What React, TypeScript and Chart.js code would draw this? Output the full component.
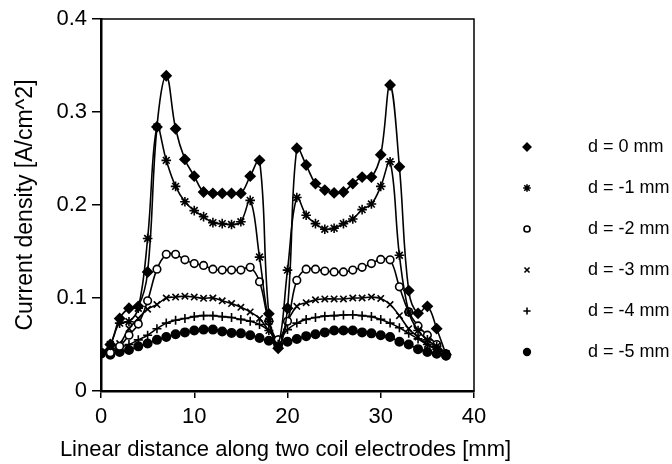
import React, { useEffect, useRef } from "react";
import { Chart, registerables } from "chart.js";
import { drawPoint } from "chart.js/helpers";

Chart.register(...registerables);

const distances = [0, 1, 2, 3, 4, 5, 6, 7, 8, 9, 10, 11, 12, 13, 14, 15, 16, 17, 18, 19, 20, 21, 22, 23, 24, 25, 26, 27, 28, 29, 30, 31, 32, 33, 34, 35, 36, 37];

const d0 = [0.040, 0.050, 0.078, 0.089, 0.091, 0.128, 0.284, 0.339, 0.282, 0.249, 0.231, 0.214, 0.2125, 0.2125, 0.2125, 0.2125, 0.231, 0.248, 0.083, 0.046, 0.089, 0.261, 0.243, 0.223, 0.216, 0.213, 0.214, 0.223, 0.230, 0.230, 0.254, 0.329, 0.241, 0.108, 0.0835, 0.091, 0.067, 0.039];
const d1 = [0.040, 0.050, 0.073, 0.0745, 0.089, 0.164, 0.284, 0.248, 0.220, 0.2035, 0.194, 0.1875, 0.181, 0.180, 0.179, 0.182, 0.205, 0.144, 0.075, 0.050, 0.130, 0.208, 0.189, 0.180, 0.174, 0.175, 0.180, 0.185, 0.195, 0.201, 0.220, 0.2465, 0.146, 0.085, 0.065, 0.055, 0.048, 0.040];
const d2 = [0.040, 0.041, 0.048, 0.060, 0.072, 0.097, 0.131, 0.147, 0.147, 0.141, 0.137, 0.135, 0.131, 0.130, 0.130, 0.130, 0.133, 0.1175, 0.075, 0.055, 0.075, 0.119, 0.131, 0.131, 0.129, 0.128, 0.128, 0.130, 0.133, 0.137, 0.1415, 0.141, 0.112, 0.085, 0.070, 0.060, 0.050, 0.040];
const d3 = [0.040, 0.047, 0.051, 0.067, 0.078, 0.088, 0.093, 0.100, 0.101, 0.102, 0.101, 0.0997, 0.100, 0.097, 0.094, 0.090, 0.085, 0.078, 0.065, 0.055, 0.075, 0.091, 0.095, 0.098, 0.099, 0.099, 0.099, 0.100, 0.100, 0.101, 0.0995, 0.093, 0.081, 0.067, 0.058, 0.050, 0.045, 0.040];
const d4 = [0.040, 0.045, 0.047, 0.050, 0.055, 0.060, 0.067, 0.073, 0.076, 0.078, 0.080, 0.081, 0.081, 0.080, 0.079, 0.077, 0.075, 0.0715, 0.065, 0.055, 0.066, 0.073, 0.077, 0.079, 0.0805, 0.081, 0.0817, 0.082, 0.081, 0.080, 0.077, 0.073, 0.068, 0.062, 0.056, 0.050, 0.045, 0.040];
const d5 = [0.041, 0.039, 0.042, 0.044, 0.048, 0.051, 0.055, 0.058, 0.061, 0.063, 0.065, 0.066, 0.066, 0.064, 0.0625, 0.062, 0.060, 0.057, 0.054, 0.050, 0.053, 0.056, 0.059, 0.061, 0.063, 0.065, 0.065, 0.065, 0.063, 0.062, 0.060, 0.058, 0.053, 0.050, 0.045, 0.042, 0.040, 0.038];

const seriesLabels = ["d = 0 mm", "d = -1 mm", "d = -2 mm", "d = -3 mm", "d = -4 mm", "d = -5 mm"];
const seriesValues = [d0, d1, d2, d3, d4, d5];
const pointStyles = ["rectRot", "star", "circle", "crossRot", "cross", "circle"];
const pointFills = ["#000", "#000", "#fff", "#000", "#000", "#000"];
const pointRadii = [4.8, 4.8, 3.8, 4.5, 4.5, 4.2];

const xTicks = [0, 10, 20, 30, 40];
const yTicks = [0, 0.1, 0.2, 0.3, 0.4];
const xTitle = "Linear distance along two coil electrodes [mm]";
const yTitle = "Current density [A/cm^2]";

const FONT = '"Liberation Sans", Arial, Helvetica, sans-serif';

const sideLegend = {
  id: "sideLegend",
  afterDraw(chart: any) {
    const ctx = chart.ctx;
    const a = chart.chartArea;
    ctx.save();
    ctx.strokeStyle = "#000";
    ctx.lineWidth = 1.5;
    ctx.strokeRect(a.left, a.top, a.right - a.left, a.bottom - a.top);
    ctx.fillStyle = "#000";
    ctx.textBaseline = "middle";
    ctx.textAlign = "center";
    ctx.font = `22px ${FONT}`;
    ctx.fillText(xTitle, (a.left + a.right) / 2 - 2, 450);
    ctx.font = `18px ${FONT}`;
    ctx.textAlign = "left";
    chart.data.datasets.forEach((ds: any, i: number) => {
      const y = 147 + i * 41;
      ctx.fillStyle = ds.pointBackgroundColor;
      ctx.strokeStyle = "#000";
      ctx.lineWidth = 1.6;
      drawPoint(ctx, { pointStyle: ds.pointStyle, radius: ds.pointRadius * 0.8, borderWidth: 1.6, rotation: 0 } as any, 527, y);
      ctx.fillStyle = "#000";
      ctx.fillText(ds.label, 588, y);
    });
    ctx.restore();
  },
};

export default function App() {
  const ref = useRef<HTMLCanvasElement>(null);
  useEffect(() => {
    if (!ref.current) return;
    const chart = new Chart(ref.current, {
      type: "line",
      data: {
        datasets: seriesValues.map((vals, i) => ({
          label: seriesLabels[i],
          data: distances.map((x, j) => ({ x, y: vals[j] })),
          borderColor: "#000",
          borderWidth: 1.6,
          tension: 0.4,
          pointStyle: pointStyles[i] as any,
          pointRadius: pointRadii[i],
          pointBackgroundColor: pointFills[i],
          pointBorderColor: "#000",
          pointBorderWidth: 1.6,
          fill: false,
        })),
      },
      options: {
        animation: false,
        responsive: false,
        layout: { padding: { top: 19, right: 198, left: 0, bottom: 0 } },
        plugins: { legend: { display: false }, tooltip: { enabled: false } },
        scales: {
          x: {
            type: "linear",
            min: 0,
            max: 40,
            afterBuildTicks: (s: any) => { s.ticks = xTicks.map((v) => ({ value: v })); },
            afterFit: (s: any) => { s.height = 73; },
            ticks: { color: "#000", font: { family: FONT, size: 22 }, padding: 6 },
            grid: { drawOnChartArea: false, drawTicks: true, tickLength: 7, color: "#000", lineWidth: 1.5 },
            border: { display: true, color: "#000", width: 2.5 },
            title: { display: false },
          },
          y: {
            type: "linear",
            min: 0,
            max: 0.4,
            afterBuildTicks: (s: any) => { s.ticks = yTicks.map((v) => ({ value: v })); },
            afterFit: (s: any) => { s.width = 101; },
            ticks: { color: "#000", font: { family: FONT, size: 22 }, padding: 5, callback: (v: any) => (v === 0 ? "0" : Number(v).toFixed(1)) },
            grid: { drawOnChartArea: false, drawTicks: true, tickLength: 9, color: "#000", lineWidth: 1.5 },
            border: { display: true, color: "#000", width: 2.5 },
            title: { display: true, text: yTitle, color: "#000", font: { family: FONT, size: 23 }, padding: { top: 12, bottom: 0 } },
          },
        },
      },
      plugins: [sideLegend],
    });
    return () => chart.destroy();
  }, []);
  return (
    <div style={{ position: "fixed", left: 0, top: 0, width: 672, height: 464, background: "#fff" }}>
      <canvas ref={ref} width={672} height={464} />
    </div>
  );
}
